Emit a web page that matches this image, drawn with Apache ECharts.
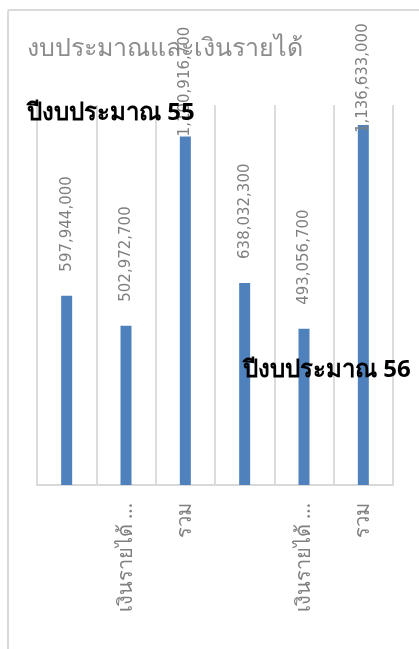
<!DOCTYPE html>
<html>
<head>
<meta charset="utf-8">
<script src="https://cdn.jsdelivr.net/npm/echarts@6.0.0/dist/echarts.min.js"></script>
<style>
  html, body { margin: 0; padding: 0; background: #fff; }
  #frame {
    position: absolute; left: 7px; top: 9px; width: 430px; height: 660px;
    border-left: 2px solid #d9d9d9; border-top: 2px solid #d9d9d9;
    border-top-left-radius: 3px;
  }
  #main { position: absolute; left: 0; top: 0; width: 419px; height: 649px; }
</style>
</head>
<body>
<div id="frame"></div>
<div id="main"></div>
<script>
// ข้อมูล
const categories = ['', 'เงินรายได้ ...', 'รวม', '', 'เงินรายได้ ...', 'รวม'];
const amounts = [597944000, 502972700, 1100916700, 638032300, 493056700, 1136633000];
const groupLabels = ['ปีงบประมาณ 55', 'ปีงบประมาณ 56'];
const chartTitle = 'งบประมาณและเงินรายได้';

// label ของแท่งที่สูงมากถูกดันลงมาให้อยู่ในกรอบ
const labelGap = [24, 24, 0, 24, 24, -8];

const myChart = echarts.init(document.getElementById('main'));
const option = {
  animation: false,
  title: {
    text: chartTitle,
    left: 22,
    top: 31,
    textStyle: { color: '#8c8c8c', fontSize: 25, fontWeight: 'normal', fontFamily: 'Noto Sans, sans-serif' }
  },
  grid: { left: 37, right: 26, top: 105, bottom: 164 },
  xAxis: {
    type: 'category',
    data: categories,
    axisTick: { show: false },
    axisLine: { lineStyle: { color: '#d9d9d9', width: 2 } },
    splitLine: { show: true, lineStyle: { color: '#dcdcdc', width: 2 } },
    axisLabel: {
      interval: 0,
      rotate: 90,
      margin: 18,
      color: '#808080',
      fontSize: 20,
      fontFamily: 'Noto Sans, sans-serif'
    }
  },
  yAxis: {
    type: 'value',
    min: 0,
    max: 1200000000,
    show: false,
    splitLine: { show: false }
  },
  series: [{
    type: 'bar',
    barWidth: 11,
    itemStyle: { color: '#4f81bd' },
    data: amounts.map((v, i) => ({ value: v, label: { distance: labelGap[i] } })),
    label: {
      show: true,
      position: 'top',
      rotate: 90,
      align: 'left',
      verticalAlign: 'middle',
      color: '#808080',
      fontSize: 15,
      fontFamily: 'DejaVu Sans',
      formatter: p => p.value.toLocaleString('en-US')
    }
  }],
  graphic: [
    {
      type: 'text', left: 27, top: 101, z: 100,
      style: { text: groupLabels[0], fill: '#000', font: 'bold 24px "Noto Sans", sans-serif' }
    },
    {
      type: 'text', left: 243, top: 358, z: 100,
      style: { text: groupLabels[1], fill: '#000', font: 'bold 24px "Noto Sans", sans-serif' }
    }
  ]
};
myChart.setOption(option);
</script>
</body>
</html>
